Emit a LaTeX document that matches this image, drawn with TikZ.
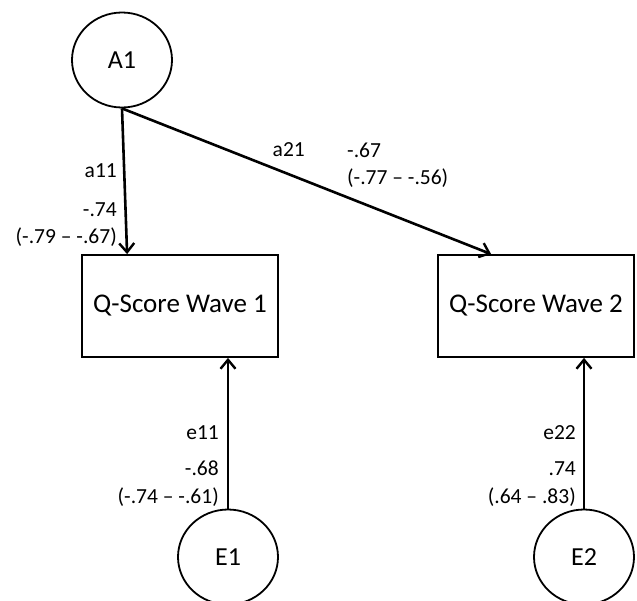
\documentclass[tikz,border=0pt]{standalone}
\usepackage{fontspec}
\setmainfont{Carlito}
\usetikzlibrary{arrows.meta,shapes.geometric,calc}
\tikzset{
  latent/.style={ellipse,draw,line width=1.8pt,inner sep=0pt,minimum width=100pt,minimum height=95pt,font=\fontsize{26}{30}\selectfont},
  observed/.style={rectangle,draw,line width=1.8pt,minimum width=196pt,minimum height=102pt,font=\fontsize{27}{32}\selectfont},
  load/.style={line width=2.6pt,-{Straight Barb[length=9pt,width=15pt,line width=2.4pt]}},
  est/.style={inner sep=0pt,font=\fontsize{21.5}{27}\selectfont}
}

\begin{document}
\begin{tikzpicture}[x=1pt,y=-1pt]
  \useasboundingbox (0,0) rectangle (637,600);
  % latent factor, observed scores, residuals
  \node[latent] (A1) at (122,60) {A1};
  \node[observed] (W1) at (180,306) {Q-Score Wave 1};
  \node[observed] (W2) at (536,306) {Q-Score Wave 2};
  \node[latent] (E1) at (228,557) {E1};
  \node[latent] (E2) at (584,557) {E2};
  % paths
  \draw[load] (A1.south) -- ($(W1.north west)+(46,0)$);
  \draw[load] (A1.south) -- ($(W2.north west)+(54,0)$);
  \draw[load] (E1) -- (E1 |- W1.south);
  \draw[load] (E2) -- (E2 |- W2.south);
  % estimates with intervals
  \node[est,anchor=base east] (a11) at (117,177) {a11};
  \node[est,anchor=base east] (a11v) at (117,216) {-.74};
  \node[est,anchor=base east] (a11ci) at (117,243) {(-.79 – -.67)};
  \node[est,anchor=base east] (a21) at (305,156) {a21};
  \node[est,anchor=base west] (a21v) at (347,157) {-.67};
  \node[est,anchor=base west] (a21ci) at (347,184) {(-.77 – -.56)};
  \node[est,anchor=base east] (e11) at (219,439) {e11};
  \node[est,anchor=base east] (e11v) at (219,475) {-.68};
  \node[est,anchor=base east] (e11ci) at (219,503) {(-.74 – -.61)};
  \node[est,anchor=base east] (e22) at (576,439) {e22};
  \node[est,anchor=base east] (e22v) at (576,475) {.74};
  \node[est,anchor=base east] (e22ci) at (576,503) {(.64 – .83)};
\end{tikzpicture}
\end{document}
